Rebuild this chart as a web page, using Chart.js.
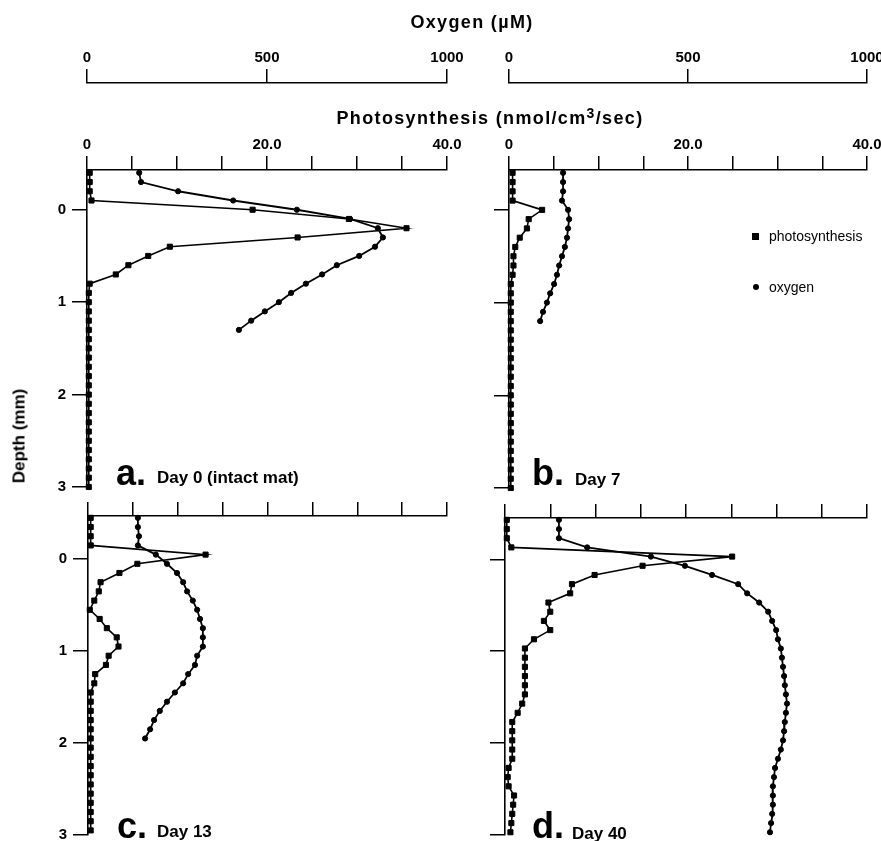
<!DOCTYPE html>
<html>
<head>
<meta charset="utf-8">
<title>Photosynthesis and oxygen depth profiles</title>
<script src="https://cdn.jsdelivr.net/npm/chart.js@4.4.0/dist/chart.umd.min.js"></script>
<style>
  body { margin: 0; background: #fff; width: 881px; height: 841px; position: relative; overflow: hidden;
         font-family: "Liberation Sans", Arial, Helvetica, sans-serif; color: #000; }
  canvas { position: absolute; }
  .txt { position: absolute; white-space: nowrap; line-height: 1; z-index: 2; }
  .title { font-size: 18px; font-weight: bold; letter-spacing: 1.35px; transform: translateX(-50%); }
  .title sup { font-size: 14px; line-height: 0; vertical-align: 6px; }
  .ytitle { font-size: 17px; font-weight: bold; transform: translate(-50%, -50%) rotate(-90deg); }
  .big { font-size: 36px; font-weight: bold; }
  .day { font-size: 17px; font-weight: bold; }
  .leg { font-size: 14px; }
  .mk { position: absolute; background: #000; z-index: 2; }
</style>
</head>
<body>
<canvas id="panelA" width="470" height="495" style="left:0;top:0"></canvas>
<canvas id="panelB" width="411" height="495" style="left:470px;top:0"></canvas>
<canvas id="panelC" width="470" height="346" style="left:0;top:495px"></canvas>
<canvas id="panelD" width="411" height="346" style="left:470px;top:495px"></canvas>

<div class="txt title" style="left:472px;top:13px">Oxygen (µM)</div>
<div class="txt title" style="left:490px;top:109px">Photosynthesis (nmol/cm<sup>3</sup>/sec)</div>
<div class="txt ytitle" style="left:19px;top:436px">Depth (mm)</div>

<div class="txt big" style="left:116px;top:455px">a.</div>
<div class="txt day" style="left:157px;top:469px">Day 0 (intact mat)</div>
<div class="txt big" style="left:532px;top:455px">b.</div>
<div class="txt day" style="left:575px;top:471px">Day 7</div>
<div class="txt big" style="left:117px;top:808px">c.</div>
<div class="txt day" style="left:157px;top:823px">Day 13</div>
<div class="txt big" style="left:532px;top:808px">d.</div>
<div class="txt day" style="left:572px;top:825px">Day 40</div>

<div class="mk" style="left:752px;top:233px;width:7px;height:7px"></div>
<div class="txt leg" style="left:769px;top:229px">photosynthesis</div>
<div class="mk" style="left:753px;top:284px;width:6px;height:6px;border-radius:50%"></div>
<div class="txt leg" style="left:769px;top:280px">oxygen</div>

<script>
// tick values and labels
const depthTicks = [0, 1, 2, 3];
const depthTickLabels = ["0", "1", "2", "3"];
const photoTicks = [0, 5, 10, 15, 20, 25, 30, 35, 40];
const photoTickLabels = ["0", "", "", "", "20.0", "", "", "", "40.0"];
const oxyTicks = [0, 500, 1000];
const oxyTickLabels = ["0", "500", "1000"];

// a. Day 0 (intact mat)
const depthA = [-0.4, -0.3, -0.2, -0.1, 0, 0.1, 0.2, 0.3, 0.4, 0.5, 0.6, 0.7, 0.8, 0.9, 1.0, 1.1, 1.2, 1.3,
  1.4, 1.5, 1.6, 1.7, 1.8, 1.9, 2.0, 2.1, 2.2, 2.3, 2.4, 2.5, 2.6, 2.7, 2.8, 2.9, 3.0];
const photoA = [0.3, 0.3, 0.3, 0.5, 18.4, 29.1, 35.5, 23.4, 9.2, 6.8, 4.6, 3.2, 0.3, 0.2, 0.2, 0.2, 0.2, 0.2,
  0.2, 0.2, 0.2, 0.2, 0.2, 0.2, 0.2, 0.2, 0.2, 0.2, 0.2, 0.2, 0.2, 0.2, 0.2, 0.2, 0.2];
const oxyDepthA = [-0.4, -0.3, -0.2, -0.1, 0, 0.1, 0.2, 0.3, 0.4, 0.5, 0.6, 0.7, 0.8, 0.9, 1.0, 1.1, 1.2, 1.3];
const oxyA = [145, 150, 253, 406, 583, 731, 808, 822, 800, 756, 694, 653, 608, 567, 533, 494, 456, 422];

// b. Day 7
const depthB = [-0.4, -0.3, -0.2, -0.1, 0, 0.1, 0.2, 0.3, 0.4, 0.5, 0.6, 0.7, 0.8, 0.9, 1.0, 1.1, 1.2, 1.3,
  1.4, 1.5, 1.6, 1.7, 1.8, 1.9, 2.0, 2.1, 2.2, 2.3, 2.4, 2.5, 2.6, 2.7, 2.8, 2.9, 3.0];
const photoB = [0.4, 0.4, 0.4, 0.4, 3.7, 2.2, 2.0, 1.2, 0.7, 0.5, 0.5, 0.4, 0.2, 0.2, 0.2, 0.2, 0.2, 0.2,
  0.2, 0.2, 0.2, 0.2, 0.2, 0.2, 0.2, 0.2, 0.2, 0.2, 0.2, 0.2, 0.2, 0.2, 0.2, 0.2, 0.2];
const oxyDepthB = [-0.4, -0.3, -0.2, -0.1, 0, 0.1, 0.2, 0.3, 0.4, 0.5, 0.6, 0.7, 0.8, 0.9, 1.0, 1.1, 1.2];
const oxyB = [151, 151, 151, 148, 165, 168, 165, 162, 156, 148, 140, 134, 126, 115, 106, 95, 87];

// c. Day 13
const depthC = [-0.45, -0.35, -0.25, -0.15, -0.05, 0.05, 0.15, 0.25, 0.35, 0.45, 0.55, 0.65, 0.75, 0.85,
  0.95, 1.05, 1.15, 1.25, 1.35, 1.45, 1.55, 1.65, 1.75, 1.85, 1.95, 2.05, 2.15, 2.25, 2.35, 2.45, 2.55,
  2.65, 2.75, 2.85, 2.95];
const photoC = [0.3, 0.3, 0.3, 0.3, 13.1, 5.5, 3.5, 1.4, 1.2, 0.7, 0.2, 1.3, 2.1, 3.2, 3.4, 2.3, 2.0, 0.8,
  0.7, 0.3, 0.3, 0.3, 0.3, 0.3, 0.3, 0.3, 0.3, 0.3, 0.3, 0.3, 0.3, 0.3, 0.3, 0.3, 0.3];
const oxyDepthC = [-0.45, -0.35, -0.25, -0.15, -0.05, 0.05, 0.15, 0.25, 0.35, 0.45, 0.55, 0.65, 0.75, 0.85,
  0.95, 1.05, 1.15, 1.25, 1.35, 1.45, 1.55, 1.65, 1.75, 1.85, 1.95];
const oxyC = [139, 139, 142, 139, 189, 220, 248, 265, 276, 292, 304, 312, 320, 320, 320, 304, 298, 279,
  265, 242, 220, 200, 184, 173, 159];

// d. Day 40
const depthD = [-0.43, -0.33, -0.23, -0.13, -0.03, 0.07, 0.17, 0.27, 0.37, 0.47, 0.57, 0.67, 0.77, 0.87,
  0.97, 1.07, 1.17, 1.27, 1.37, 1.47, 1.57, 1.67, 1.77, 1.87, 1.97, 2.07, 2.17, 2.27, 2.37, 2.47, 2.57,
  2.67, 2.77, 2.87, 2.97];
const photoD = [0.2, 0.2, 0.2, 0.7, 25.1, 15.2, 9.9, 7.4, 7.2, 4.8, 5.0, 4.3, 5.0, 3.2, 2.2, 2.2, 2.2, 2.2,
  2.2, 2.2, 1.9, 1.4, 0.8, 0.8, 0.8, 0.8, 0.8, 0.4, 0.3, 0.4, 1.0, 0.9, 0.8, 0.7, 0.6];
const oxyD = [149, 149, 149, 227, 403, 497, 572, 644, 669, 702, 727, 738, 749, 754, 762, 765, 768, 771,
  773, 776, 779, 776, 773, 771, 768, 762, 754, 746, 743, 740, 740, 740, 738, 735, 732];

const axisFont = { family: "'Liberation Sans', Arial, sans-serif", size: 15, weight: "bold" };

function fixSize(size) {
  return function (scale) {
    if (scale.isHorizontal()) scale.height = size;
    else scale.width = size;
    scale.paddingLeft = 0;
    scale.paddingRight = 0;
    scale.paddingTop = 0;
    scale.paddingBottom = 0;
  };
}

function setTicks(values) {
  return function (scale) {
    scale.ticks = values.map(function (v) { return { value: v }; });
  };
}

function points(xs, ys) {
  return xs.map(function (x, i) { return { x: x, y: ys[i] }; });
}

function topAxis(max, ticks, labels, size, weight, show) {
  const axis = {
    type: "linear",
    position: "top",
    display: show,
    min: 0,
    max: max,
    weight: weight,
    afterBuildTicks: setTicks(ticks),
    grid: { drawOnChartArea: false, drawTicks: true, tickLength: 14, color: "#000", lineWidth: 1.5 },
    border: { display: true, color: "#000", width: 1.6 },
    ticks: {
      color: "#000", font: axisFont, padding: 2, maxRotation: 0, autoSkip: false,
      callback: function (v, i) { return labels ? labels[i] : ""; }
    }
  };
  if (show) axis.afterFit = fixSize(size);
  return axis;
}

function depthAxis(min, size, showLabels) {
  return {
    type: "linear",
    position: "left",
    reverse: true,
    min: min,
    max: 3,
    afterBuildTicks: setTicks(depthTicks),
    afterFit: fixSize(size),
    grid: { drawOnChartArea: false, drawTicks: true, tickLength: 15, color: "#000", lineWidth: 1.5 },
    border: { display: true, color: "#000", width: 1.6 },
    ticks: {
      color: "#000", font: axisFont, padding: 6,
      callback: function (v, i) { return showLabels ? depthTickLabels[i] : ""; }
    }
  };
}

function makePanel(id, p) {
  new Chart(document.getElementById(id), {
    type: "scatter",
    data: {
      datasets: [
        {
          label: "photosynthesis",
          data: points(p.photo, p.depth),
          xAxisID: "x",
          showLine: true,
          borderColor: "#000",
          backgroundColor: "#000",
          borderWidth: 1.6,
          pointStyle: "rect",
          pointRadius: 3.6,
          pointBorderWidth: 1,
          tension: 0,
          clip: false
        },
        {
          label: "oxygen",
          data: points(p.oxy, p.oxyDepth),
          xAxisID: "xo",
          showLine: true,
          borderColor: "#000",
          backgroundColor: "#000",
          borderWidth: 1.8,
          pointStyle: "circle",
          pointRadius: 2.6,
          pointBorderWidth: 1,
          tension: 0,
          clip: false
        }
      ]
    },
    options: {
      responsive: false,
      animation: false,
      events: [],
      layout: { padding: { left: 0, top: 0, right: p.padRight, bottom: p.padBottom } },
      plugins: { legend: { display: false }, tooltip: { enabled: false } },
      scales: {
        x: topAxis(40, photoTicks, p.top ? photoTickLabels : null, p.photoSize, 0, true),
        xo: topAxis(1000, oxyTicks, oxyTickLabels, 83, 1, p.top),
        y: depthAxis(p.yMin, p.yWidth, p.depthLabels)
      }
    }
  });
}

makePanel("panelA", { depth: depthA, photo: photoA, oxyDepth: oxyDepthA, oxy: oxyA, top: true,
  photoSize: 87, yMin: -0.43, yWidth: 87, depthLabels: true, padRight: 23, padBottom: 8 });
makePanel("panelB", { depth: depthB, photo: photoB, oxyDepth: oxyDepthB, oxy: oxyB, top: true,
  photoSize: 87, yMin: -0.43, yWidth: 39, depthLabels: false, padRight: 14, padBottom: 7 });
makePanel("panelC", { depth: depthC, photo: photoC, oxyDepth: oxyDepthC, oxy: oxyC, top: false,
  photoSize: 21, yMin: -0.47, yWidth: 88, depthLabels: true, padRight: 23, padBottom: 6 });
makePanel("panelD", { depth: depthD, photo: photoD, oxyDepth: depthD, oxy: oxyD, top: false,
  photoSize: 23, yMin: -0.45, yWidth: 35, depthLabels: false, padRight: 14, padBottom: 6 });
</script>
</body>
</html>
